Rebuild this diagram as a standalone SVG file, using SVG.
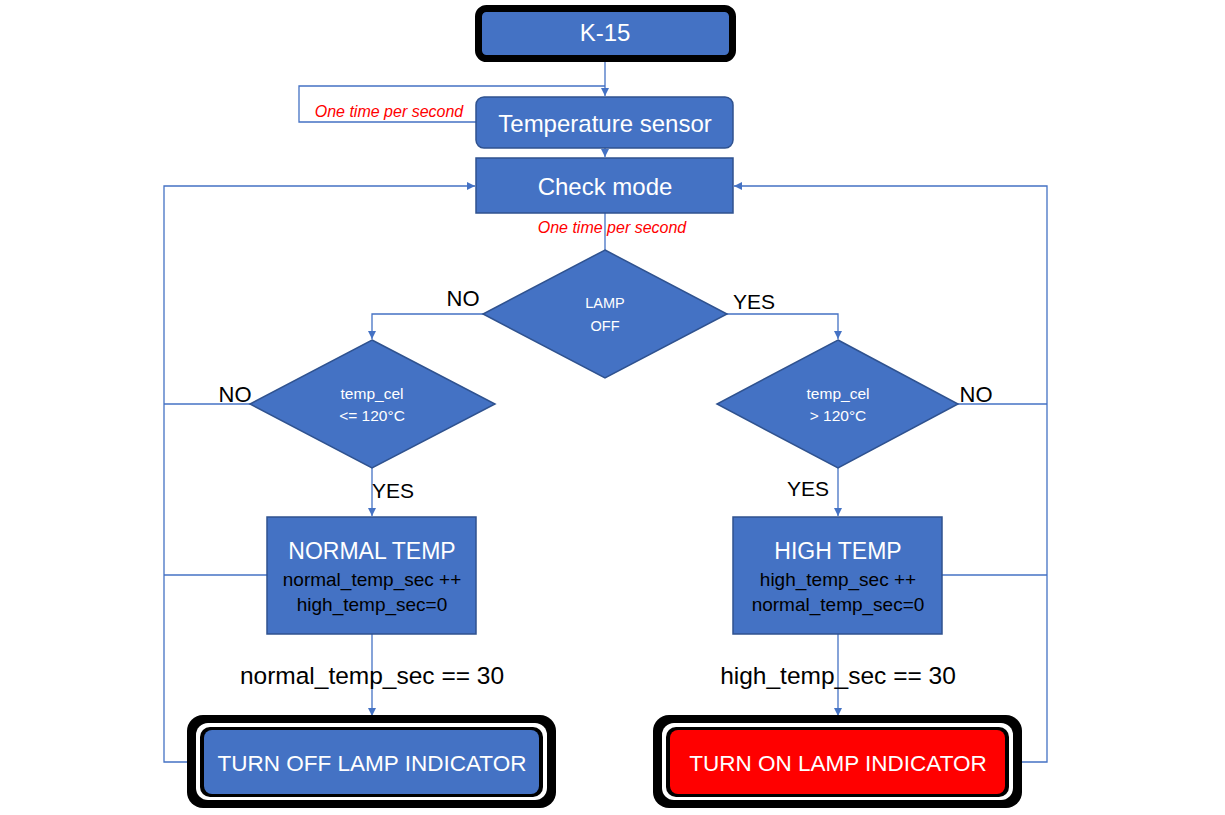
<svg xmlns="http://www.w3.org/2000/svg" width="1225" height="815" viewBox="0 0 1225 815">
<defs>
<marker id="arr" viewBox="0 0 10 10" refX="10" refY="5" markerWidth="8" markerHeight="8" markerUnits="userSpaceOnUse" orient="auto">
<path d="M0,0 L10,5 L0,10 z" fill="#4472C4"/>
</marker>
</defs>
<style>
.box{fill:#4472C4;stroke:#2F528F;stroke-width:1.5}
.con{fill:none;stroke:#4472C4;stroke-width:1.3}
.t{font-family:"Liberation Sans",Arial,sans-serif;text-anchor:middle}
.w{fill:#FFFFFF}
.k{fill:#000000}
.red{fill:#FF0000;font-style:italic;font-size:16px}
</style>
<rect width="1225" height="815" fill="#FFFFFF"/>
<g id="connectors">
<path class="con" d="M605,62 V96" marker-end="url(#arr)"/>
<path class="con" d="M476,122 H299 V86 H605"/>
<path class="con" d="M605,148 V157" marker-end="url(#arr)"/>
<path class="con" d="M605,213 V250"/>
<path class="con" d="M483,314 H372 V339" marker-end="url(#arr)"/>
<path class="con" d="M727,314 H838 V339" marker-end="url(#arr)"/>
<path class="con" d="M372,468 V516" marker-end="url(#arr)"/>
<path class="con" d="M838,468 V516" marker-end="url(#arr)"/>
<path class="con" d="M372,634 V716" marker-end="url(#arr)"/>
<path class="con" d="M838,634 V716" marker-end="url(#arr)"/>
<path class="con" d="M250,404 H164"/>
<path class="con" d="M267,575 H164"/>
<path class="con" d="M190,762 H164 V186 H475" marker-end="url(#arr)"/>
<path class="con" d="M958,404 H1047"/>
<path class="con" d="M942,575 H1047"/>
<path class="con" d="M1020,762 H1047 V186 H734" marker-end="url(#arr)"/>
</g>
<g id="k15">
<rect x="478.5" y="8.5" width="254" height="50" rx="8" fill="#4472C4" stroke="#000" stroke-width="7"/>
<text class="t w" x="605" y="41" font-size="24">K-15</text>
</g>
<g id="label-sensor-rate">
<text class="t red" x="389" y="117">One time per second</text>
</g>
<g id="temp-sensor">
<rect class="box" x="476" y="97" width="257" height="51" rx="8"/>
<text class="t w" x="605" y="132" font-size="24">Temperature sensor</text>
</g>
<g id="check-mode">
<rect class="box" x="476" y="158" width="257" height="55"/>
<text class="t w" x="605" y="195" font-size="24">Check mode</text>
</g>
<g id="label-check-rate">
<text class="t red" x="612" y="233">One time per second</text>
</g>
<g id="lamp-off">
<polygon class="box" points="605,250 727,314 605,378 483,314"/>
<text class="t w" x="605" y="308" font-size="14.5">LAMP</text>
<text class="t w" x="605" y="331" font-size="14.5">OFF</text>
<text class="t k" x="463" y="306" font-size="22">NO</text>
<text class="t k" x="754" y="309" font-size="21">YES</text>
</g>
<g id="normal-cond">
<polygon class="box" points="372,340 495,404 372,468 250,404"/>
<text class="t w" x="372" y="399" font-size="15.5">temp_cel</text>
<text class="t w" x="372" y="421" font-size="15.5">&lt;= 120°C</text>
<text class="t k" x="235" y="402" font-size="22">NO</text>
<text class="t k" x="393" y="498" font-size="21">YES</text>
</g>
<g id="high-cond">
<polygon class="box" points="838,340 958,404 838,468 717,404"/>
<text class="t w" x="838" y="399" font-size="15.5">temp_cel</text>
<text class="t w" x="838" y="421" font-size="15.5">&gt; 120°C</text>
<text class="t k" x="976" y="402" font-size="22">NO</text>
<text class="t k" x="808" y="496" font-size="21">YES</text>
</g>
<g id="normal-temp">
<rect class="box" x="267" y="517" width="209" height="117"/>
<text class="t w" x="372" y="559" font-size="23">NORMAL TEMP</text>
<text class="t k" x="372" y="586" font-size="19">normal_temp_sec ++</text>
<text class="t k" x="372" y="611" font-size="19">high_temp_sec=0</text>
</g>
<g id="high-temp">
<rect class="box" x="733" y="517" width="209" height="117"/>
<text class="t w" x="838" y="559" font-size="23">HIGH TEMP</text>
<text class="t k" x="838" y="586" font-size="19">high_temp_sec ++</text>
<text class="t k" x="838" y="611" font-size="19">normal_temp_sec=0</text>
</g>
<g id="label-normal-30">
<text class="t k" x="372" y="684" font-size="24.5">normal_temp_sec == 30</text>
</g>
<g id="label-high-30">
<text class="t k" x="838" y="684" font-size="24.5">high_temp_sec == 30</text>
</g>
<g id="turn-off">
<rect x="187" y="715" width="369" height="93" rx="16" fill="#000"/>
<rect x="196" y="723" width="351" height="77" rx="12" fill="#FFF"/>
<rect x="200" y="727" width="343" height="70" rx="10" fill="#000"/>
<rect x="204" y="730" width="335" height="64" rx="8" fill="#4472C4"/>
<text class="t w" x="372" y="771" font-size="22.5">TURN OFF LAMP INDICATOR</text>
</g>
<g id="turn-on">
<rect x="653" y="715" width="369" height="93" rx="16" fill="#000"/>
<rect x="662" y="723" width="351" height="77" rx="12" fill="#FFF"/>
<rect x="666" y="727" width="343" height="70" rx="10" fill="#000"/>
<rect x="670" y="730" width="335" height="64" rx="8" fill="#FF0000"/>
<text class="t w" x="838" y="771" font-size="22.5">TURN ON LAMP INDICATOR</text>
</g>
</svg>
